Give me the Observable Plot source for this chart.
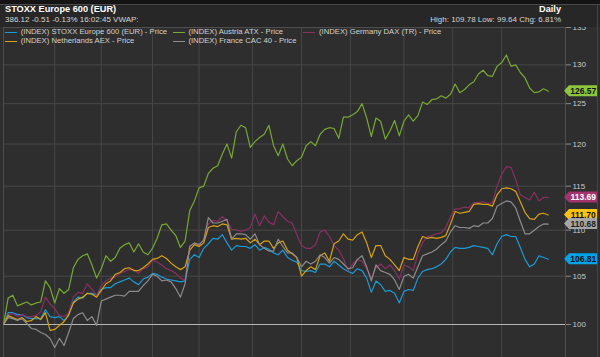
<!DOCTYPE html>
<html><head><meta charset="utf-8">
<script src="https://cdn.jsdelivr.net/npm/d3@7"></script>
<script src="https://cdn.jsdelivr.net/npm/@observablehq/plot@0.6"></script>
<style>
body{margin:0;background:#151515;}
#wrap{position:relative;width:600px;height:357px;overflow:hidden;font-family:Arial,"Liberation Sans",sans-serif;}
#hdr{position:relative;height:27px;background:#272727;}
#topbar{position:absolute;left:0;top:0;width:600px;height:5px;background:#141414;border-bottom:1px solid #4a4a4a;box-sizing:border-box}
.t{position:absolute;line-height:1;white-space:nowrap;}
#legend{position:absolute;left:0;top:27px;width:565px;height:20px;pointer-events:none}
.li{position:absolute;line-height:1;white-space:nowrap;font-size:7.7px;color:#d2d2d2}
.sw{position:absolute;height:1.5px;width:12px}
#rborder{position:absolute;left:597px;top:5px;width:1px;height:352px;background:#444}
</style></head>
<body>
<div id="wrap">
  <div id="hdr">
    <div id="topbar"></div>
    <div class="t" id="title" style="left:5px;top:4.6px;font-size:9.2px;font-weight:bold;color:#ffffff"></div>
    <div class="t" id="quote" style="left:5px;top:16.2px;font-size:8px;color:#d6d6d6"></div>
    <div class="t" id="freq" style="right:39px;top:4.6px;font-size:9.2px;font-weight:bold;color:#ffffff"></div>
    <div class="t" id="stats" style="right:39px;top:16px;font-size:8px;color:#d6d6d6"></div>
  </div>
  <div id="chart"></div>
  <div id="legend"></div>
  <div id="rborder"></div>
</div>
<script>
// ---- text ----
const titleText = "STOXX Europe 600 (EUR)";
const quoteText = "386.12 -0.51 -0.13% 16:02:45 VWAP:";
const freqText = "Daily";
const statsText = "High: 109.78 Low: 99.64 Chg: 6.81%";

// ---- series names ----
const seriesNames = [
  "(INDEX) STOXX Europe 600 (EUR) - Price",
  "(INDEX) Austria ATX - Price",
  "(INDEX) Germany DAX (TR) - Price",
  "(INDEX) Netherlands AEX - Price",
  "(INDEX) France CAC 40 - Price"
];
const lineColors = ["#1c9ad6", "#78a832", "#8a2f62", "#d6a213", "#8c8c8c"];
const tagColors  = ["#00a2e8", "#8cc63e", "#a3336f", "#ffc20e", "#a6a6a6"];
const tagText    = ["#101010", "#101010", "#ffffff", "#101010", "#202020"];

// trading-day index of each reading (every 2nd trading day)
const dayIdx = d3.range(0, 235, 2);
// trading-day index of month starts (vertical grid)
const monthStarts = [22, 42, 64, 84, 107, 128, 149, 172, 193, 214];
const yTicks = [100, 105, 110, 115, 120, 125, 130, 135];
const yGrid = [105, 110, 115, 120, 125, 130, 135];
const baseLine = [100];

// ---- values (rebased to 100) ----
const stoxx600 = [100, 101.2, 101.2, 101.0, 101.0, 100.7, 100.6, 100.6, 100.6, 101.5,
 100.8, 100.7, 100.8, 100.4, 100.9, 102.3, 102.8, 102.7, 103.2, 103.2,
 103.0, 103.6, 103.8, 103.8, 104.2, 104.4, 104.6, 104.8, 104.4, 104.1,
 104.7, 104.9, 105.3, 105.2, 104.9, 104.7, 104.6, 104.5, 104.4, 104.5,
 106.8, 107.3, 107.0, 108.0, 108.5, 109.1, 109.0, 109.5, 108.6, 107.8,
 108.3, 108.2, 108.2, 108.0, 108.4, 107.8, 108.1, 107.9, 107.5, 107.3,
 107.8, 107.0, 106.7, 106.5, 105.6, 105.5, 105.6, 105.4, 106.3, 106.3,
 106.0, 106.6, 106.2, 105.8, 105.5, 105.3, 105.8, 105.6, 104.8, 103.3,
 104.5, 104.1, 103.4, 103.5, 103.2, 102.2, 103.4, 103.6, 103.5, 104.8,
 105.5, 105.7, 105.8, 106.0, 106.3, 106.8, 107.6, 108.1, 108.0, 108.0,
 108.1, 108.3, 108.2, 108.1, 108.0, 107.3, 108.5, 109.3, 109.5, 109.3,
 109.3, 108.1, 106.8, 106.0, 106.3, 107.2, 107.0, 106.81];

const atx = [100, 102.7, 103.0, 101.9, 102.1, 102.3, 102.0, 102.2, 102.3, 104.5,
 103.8, 102.2, 103.7, 103.2, 103.6, 105.9, 106.8, 107.2, 107.4, 106.2,
 104.8, 105.8, 107.2, 106.6, 107.0, 108.0, 108.4, 108.6, 107.6, 108.5,
 107.6, 107.3, 108.0, 109.1, 110.6, 110.7, 110.0, 109.4, 108.1, 108.8,
 112.2, 113.3, 114.8, 115.0, 116.5, 117.1, 117.4, 118.8, 120.0, 118.3,
 121.5, 122.3, 122.0, 119.6, 120.3, 120.8, 121.2, 122.3, 119.8, 118.6,
 120.0, 118.2, 117.4, 118.0, 118.4, 119.8, 120.3, 119.8, 121.2, 121.8,
 122.0, 121.9, 120.7, 123.3, 123.3, 123.6, 124.0, 125.0, 123.2, 120.9,
 123.2, 122.8, 120.6, 121.6, 122.9, 121.0, 122.8, 123.6, 122.8, 123.5,
 125.2, 124.9, 125.5, 125.6, 126.0, 125.7, 126.2, 127.5, 126.4, 126.8,
 127.4, 127.8, 128.8, 129.3, 128.6, 128.5, 129.8, 130.3, 131.3, 129.8,
 130.0, 129.0, 128.3, 127.0, 126.4, 126.5, 126.9, 126.57];

const dax = [100, 101.0, 101.1, 100.8, 101.0, 100.8, 100.8, 100.9, 101.3, 102.8,
 102.1, 101.6, 100.9, 100.8, 101.2, 102.8, 103.3, 103.2, 104.2, 103.6,
 103.0, 104.0, 104.5, 104.8, 104.9, 105.3, 105.5, 105.7, 105.7, 105.3,
 105.8, 106.0, 106.7, 106.5, 106.2, 105.8, 105.6, 105.3, 104.8, 104.6,
 108.3, 108.5, 108.2, 109.0, 110.7, 111.1, 111.0, 111.5, 111.0, 110.1,
 110.0, 109.9, 110.0, 110.3, 111.8, 110.5, 111.6, 110.9, 110.6, 112.1,
 111.5, 111.0, 110.8, 109.5, 108.3, 108.0, 108.0, 108.4, 109.8, 110.0,
 109.3, 108.3, 107.8, 106.9, 105.6, 106.3, 106.8, 106.6, 105.8, 104.8,
 105.9, 106.3, 105.8, 106.2, 105.6, 104.7, 106.2, 106.0, 105.6, 107.4,
 108.6, 109.3, 109.4, 109.6, 109.7, 110.3, 111.5, 112.4, 112.4, 112.6,
 112.5, 113.1, 113.1, 113.2, 113.0, 113.1, 115.0, 116.4, 117.3, 117.2,
 115.8, 114.0, 113.7, 113.4, 114.3, 113.3, 113.7, 113.69];

const aex = [100, 100.9, 100.7, 100.5, 100.7, 100.3, 100.4, 100.8, 100.5, 101.2,
 99.4, 99.5, 99.9, 100.3, 101.0, 102.2, 102.6, 102.8, 103.2, 103.1,
 102.8, 103.5, 104.2, 104.5, 105.2, 105.4, 105.8, 105.9, 105.6, 105.6,
 105.9, 106.3, 106.8, 106.9, 107.2, 106.9, 106.4, 106.0, 105.7, 106.0,
 107.8, 108.4, 108.2, 108.6, 110.3, 110.5, 110.4, 110.7, 110.6, 109.0,
 109.1, 109.0, 109.1, 108.6, 109.0, 108.4, 108.8, 108.8, 108.0, 108.6,
 108.8, 107.8, 107.4, 107.0, 105.0, 105.6, 106.0, 105.7, 107.2, 107.5,
 106.6, 108.5, 108.8, 109.6, 109.0, 108.9, 109.5, 109.8, 108.6, 107.0,
 108.3, 108.3, 107.2, 106.8, 106.2, 105.6, 107.0, 106.8, 106.8, 108.2,
 109.3, 109.1, 109.2, 109.1, 109.2, 109.4, 110.7, 112.1, 111.9, 112.0,
 112.1, 112.9, 113.0, 112.9, 112.9, 112.7, 114.0, 114.7, 114.8, 114.7,
 114.4, 113.2, 112.0, 111.3, 111.2, 111.8, 111.9, 111.70];

const cac40 = [100, 100.7, 100.6, 100.4, 100.6, 100.1, 99.6, 99.5, 99.2, 99.0,
 98.6, 97.7, 98.6, 97.9, 99.2, 100.6, 101.0, 101.2, 100.4, 100.8,
 99.9, 102.4, 102.6, 102.8, 103.0, 103.0, 102.9, 103.4, 103.4, 103.4,
 104.0, 104.5, 105.2, 105.0, 104.5, 104.6, 104.4, 103.7, 102.8, 104.2,
 108.2, 108.6, 108.4, 108.9, 111.4, 110.8, 110.8, 111.0, 111.2, 109.0,
 109.6, 109.6, 109.5, 109.0, 109.6, 108.4, 108.0, 107.7, 107.7, 109.0,
 108.2, 107.5, 107.5, 107.0, 106.0, 106.6, 106.3, 106.6, 107.3, 107.0,
 106.4, 107.0, 106.8, 106.3, 105.8, 105.9, 106.8, 107.2, 106.0, 104.5,
 106.2, 105.6, 105.4, 105.2, 104.6, 103.6, 105.0, 105.2, 104.8, 106.0,
 107.2, 107.4, 107.6, 107.9, 108.4, 108.8, 109.8, 110.5, 110.3, 110.3,
 110.2, 110.5, 110.4, 110.8, 110.8, 111.3, 112.7, 113.0, 113.3, 113.2,
 112.5, 111.0, 109.6, 109.6, 110.0, 110.4, 110.7, 110.68];

const seriesValues = [stoxx600, atx, dax, aex, cac40];

// ---- header ----
document.getElementById("title").textContent = titleText;
document.getElementById("quote").textContent = quoteText;
document.getElementById("freq").textContent = freqText;
document.getElementById("stats").textContent = statsText;

// ---- legend (3-column grid) ----
const legend = document.getElementById("legend");
const colX = [5, 172.7, 303.3];
const rowText = [1.3, 10.3], rowSw = [4.6, 13.6];
seriesNames.forEach((name, i) => {
  const c = i % 3, r = Math.floor(i / 3);
  const sw = document.createElement("div");
  sw.className = "sw";
  sw.style.left = colX[c] + "px"; sw.style.top = rowSw[r] + "px";
  sw.style.background = lineColors[i];
  legend.appendChild(sw);
  const t = document.createElement("div");
  t.className = "li";
  t.style.left = (colX[c] + 15.7) + "px"; t.style.top = rowText[r] + "px";
  t.textContent = name;
  legend.appendChild(t);
});

// ---- data table ----
const rows = seriesNames.flatMap((name, s) =>
  seriesValues[s].map((v, i) => ({day: dayIdx[i], value: v, series: name})));

const W = 600, H = 330;
const plot = Plot.plot({
  width: W, height: H,
  marginLeft: 3, marginRight: 35, marginTop: 0, marginBottom: 0,
  style: "background:#2e2e2e;color:#c8c8c8;font-family:Arial,'Liberation Sans',sans-serif;font-size:8px;overflow:visible",
  x: {domain: [0, 241.4], axis: null},
  y: {type: "log", domain: [96.72, 135]},
  color: {domain: seriesNames, range: lineColors},
  marks: [
    Plot.gridY(yGrid, {stroke: "#474747", strokeOpacity: 1}),
    Plot.gridX(monthStarts, {stroke: "#474747", strokeOpacity: 1}),
    Plot.frame({stroke: "#4e4e4e"}),
    Plot.ruleY(baseLine, {stroke: "#b8b8b8", strokeWidth: 1}),
    Plot.lineY(rows, {x: "day", y: "value", z: "series", stroke: "series", strokeWidth: 1.2}),
    Plot.axisY({ticks: yTicks, anchor: "right", tickSize: 5, tickPadding: 2, fontSize: 8, label: null, stroke: "#8a8a8a"})
  ]
});
plot.style.overflow = "visible";
document.getElementById("chart").appendChild(plot);

// ---- last-value tags on the right axis ----
const ys = plot.scale("y");
const svg = d3.select(plot);
const g = svg.append("g");
seriesValues.forEach((vals, i) => {
  const v = vals[vals.length - 1];
  const py = ys.apply(v);
  const x0 = W - 36, x1 = x0 + 5, x2 = W - 3, hh = 5.5;
  g.append("path")
    .attr("d", `M${x0},${py}L${x1},${py - hh}L${x2},${py - hh}L${x2},${py + hh}L${x1},${py + hh}Z`)
    .attr("fill", tagColors[i]);
  g.append("text")
    .attr("x", (x1 + x2) / 2 + 0.3).attr("y", py).attr("dy", "0.36em")
    .attr("text-anchor", "middle")
    .attr("font-size", 8.5).attr("font-weight", "bold")
    .attr("fill", tagText[i])
    .text(v.toFixed(2));
});
</script>
</body></html>
